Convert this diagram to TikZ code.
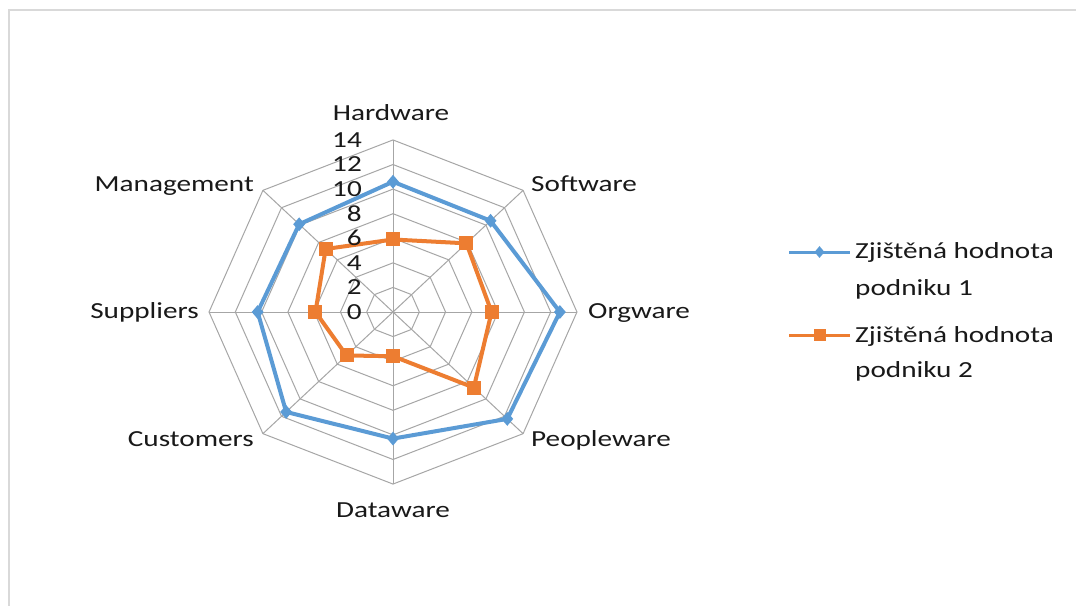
\documentclass[tikz,border=0pt]{standalone}
\usepackage{fontspec}
\setmainfont{Carlito}[FakeStretch=1.27]
\usetikzlibrary{shapes.geometric}
\definecolor{gridgray}{HTML}{A6A6A6}
\definecolor{serblue}{HTML}{5B9BD5}
\definecolor{serorange}{HTML}{ED7D31}
\definecolor{framegray}{HTML}{D9D9D9}
\begin{document}
\begin{tikzpicture}[x=1pt,y=1pt,
  lbl/.style={font=\fontsize{23}{28}\selectfont, inner sep=0pt, text=black!90},
  gridline/.style={draw=gridgray, line width=1pt},
  ser1/.style={draw=serblue, line width=4pt, line join=round},
  ser2/.style={draw=serorange, line width=4pt, line join=round},
  mark1/.style={diamond, fill=serblue, inner sep=0pt, minimum width=12pt, minimum height=14pt},
  mark2/.style={rectangle, fill=serorange, inner sep=0pt, minimum size=14pt},
  legline1/.style={draw=serblue, line width=3pt},
  legline2/.style={draw=serorange, line width=3pt},
]
\useasboundingbox (0,0) rectangle (1076,-605);
\fill[white] (0,0) rectangle (1076,-605);
\draw[framegray, line width=1.2pt] (1080,-10) -- (9,-10) -- (9,-610);

\begin{scope}[shift={(393,-312)}, x=13.14pt, y=12.29pt]
  \foreach \r in {2,4,...,14}
    \draw[gridline] (90:\r) -- (45:\r) -- (0:\r) -- (-45:\r) -- (-90:\r) -- (-135:\r) -- (180:\r) -- (135:\r) -- cycle;
  \foreach \a in {0,45,...,315}
    \draw[gridline] (0,0) -- (\a:14);
  % series 1
  \coordinate (b1) at (90:10.6);
  \coordinate (b2) at (45:10.5);
  \coordinate (b3) at (0:12.7);
  \coordinate (b4) at (-45:12.3);
  \coordinate (b5) at (-90:10.3);
  \coordinate (b6) at (-135:11.5);
  \coordinate (b7) at (180:10.3);
  \coordinate (b8) at (135:10.1);
  % series 2
  \coordinate (o1) at (90:5.9);
  \coordinate (o2) at (45:7.9);
  \coordinate (o3) at (0:7.5);
  \coordinate (o4) at (-45:8.7);
  \coordinate (o5) at (-90:3.6);
  \coordinate (o6) at (-135:5.0);
  \coordinate (o7) at (180:5.9);
  \coordinate (o8) at (135:7.25);
  \draw[ser1] (b1) -- (b2) -- (b3) -- (b4) -- (b5) -- (b6) -- (b7) -- (b8) -- cycle;
  \draw[ser2] (o1) -- (o2) -- (o3) -- (o4) -- (o5) -- (o6) -- (o7) -- (o8) -- cycle;
  \foreach \i in {1,...,8} \node[mark1] (mb\i) at (b\i) {};
  \foreach \i in {1,...,8} \node[mark2] (mo\i) at (o\i) {};
\end{scope}

\foreach \v in {0,2,...,14}
  \node[lbl, anchor=east] (t\v) at (362, {-312+12.29*\v}) {\v};

\node[lbl, anchor=base] (hw) at (391,-120.7) {Hardware};
\node[lbl, anchor=base west] (sw) at (531,-191) {Software};
\node[lbl, anchor=base west] (ow) at (588,-318) {Orgware};
\node[lbl, anchor=base west] (pw) at (531,-446) {Peopleware};
\node[lbl, anchor=base] (dw) at (393,-517) {Dataware};
\node[lbl, anchor=base east] (cu) at (254,-446) {Customers};
\node[lbl, anchor=base east] (su) at (199,-318) {Suppliers};
\node[lbl, anchor=base east] (ma) at (254,-191) {Management};

% legend
\coordinate (l1a) at (789,-252);
\coordinate (l1b) at (850,-252);
\draw[legline1] (l1a) -- (l1b);
\node[mark1, minimum width=10pt, minimum height=12pt] (lm1) at (819.5,-252) {};
\node[lbl, anchor=base west] (lt1) at (855,-258) {Zjištěná hodnota};
\node[lbl, anchor=base west] (lt1b) at (855,-295) {podniku 1};
\coordinate (l2a) at (789,-335);
\coordinate (l2b) at (850,-335);
\draw[legline2] (l2a) -- (l2b);
\node[mark2, minimum size=12pt] (lm2) at (819.5,-335) {};
\node[lbl, anchor=base west] (lt2) at (855,-342) {Zjištěná hodnota};
\node[lbl, anchor=base west] (lt2b) at (855,-377) {podniku 2};
\end{tikzpicture}
\end{document}
